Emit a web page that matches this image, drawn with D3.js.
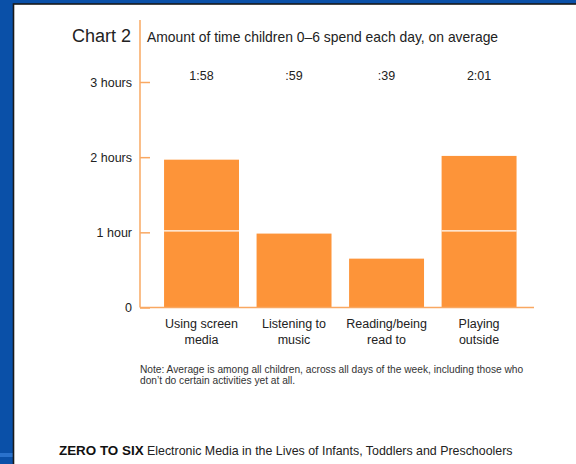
<!DOCTYPE html>
<html>
<head>
<meta charset="utf-8">
<script src="https://cdn.jsdelivr.net/npm/d3@7"></script>
<style>
  body { margin: 0; background: #0a50a8; }
  svg { display: block; font-family: "Liberation Sans", Arial, sans-serif; }
</style>
</head>
<body>
<svg></svg>
<script>
var categories = [["Using screen", "media"], ["Listening to", "music"], ["Reading/being", "read to"], ["Playing", "outside"]];
var minutes = [118, 59, 39, 121];
var valueLabels = ["1:58", ":59", ":39", "2:01"];
var hourTicks = [0, 1, 2, 3];
var hourLabels = ["0", "1 hour", "2 hours", "3 hours"];
var noteLines = ["Note: Average is among all children, across all days of the week, including those who",
                 "don\u2019t do certain activities yet at all."];

var W = 576, H = 464;
var barColor = "#fd9439";
var axisColor = "#f9a862";

var svg = d3.select("svg")
    .attr("width", W)
    .attr("height", H);

// slide background + white panel
svg.append("rect").attr("width", W).attr("height", H).attr("fill", "#0a50a8");
svg.append("rect").attr("x", 0).attr("y", 453).attr("width", 13).attr("height", 4).attr("fill", "#2a72cc");
svg.append("rect")
    .attr("x", 13.5).attr("y", 4)
    .attr("width", W).attr("height", H)
    .attr("fill", "#fff")
    .attr("stroke", "#1a1a1a")
    .attr("stroke-width", 1.6);

var x = d3.scaleBand()
    .domain(d3.range(categories.length))
    .range([140, 540.6])
    .paddingInner(0.19)
    .paddingOuter(0.26);

var y = d3.scaleLinear()
    .domain([0, 3])
    .range([307.5, 82]);

// bars
svg.selectAll(".bar")
    .data(minutes)
    .enter()
    .append("rect")
      .attr("class", "bar")
      .attr("x", function(d, i) { return x(i); })
      .attr("y", function(d) { return y(d / 60); })
      .attr("width", x.bandwidth())
      .attr("height", function(d) { return y(0) - y(d / 60); })
      .attr("fill", barColor);

// white hour lines across the bars
minutes.forEach(function(d, i) {
    hourTicks.filter(function(h) { return h > 0 && y(h) - 1.5 > y(d / 60) + 1; }).forEach(function(h) {
        svg.append("line")
            .attr("x1", x(i)).attr("x2", x(i) + x.bandwidth())
            .attr("y1", y(h) - 1.5).attr("y2", y(h) - 1.5)
            .attr("stroke", "#fff")
            .attr("stroke-width", 1.4);
    });
});

// y axis: ticks point into the plot, labels on the left
var yAxis = svg.append("g")
    .attr("transform", "translate(140,0)")
    .call(d3.axisLeft(y)
        .tickValues(hourTicks)
        .tickSize(-10)
        .tickSizeOuter(0)
        .tickPadding(8)
        .tickFormat(function(d, i) { return hourLabels[i]; }));
yAxis.select(".domain").remove();
yAxis.selectAll("line").attr("stroke", axisColor).attr("stroke-width", 1.5);
yAxis.selectAll("text")
    .attr("font-family", "Liberation Sans, Arial, sans-serif")
    .attr("font-size", 12.5)
    .attr("fill", "#222");

svg.append("line")
    .attr("x1", 140).attr("x2", 140)
    .attr("y1", 20).attr("y2", y(0))
    .attr("stroke", axisColor).attr("stroke-width", 1.5);
svg.append("line")
    .attr("x1", 140).attr("x2", 534)
    .attr("y1", y(0)).attr("y2", y(0))
    .attr("stroke", axisColor).attr("stroke-width", 1.5);

// value labels across the top
svg.selectAll(".val")
    .data(valueLabels)
    .enter()
    .append("text")
      .attr("x", function(d, i) { return x(i) + x.bandwidth() / 2; })
      .attr("y", 80)
      .attr("text-anchor", "middle")
      .attr("font-size", 12.5)
      .attr("fill", "#222")
      .text(function(d) { return d; });

// category labels
var cat = svg.selectAll(".cat")
    .data(categories)
    .enter()
    .append("text")
      .attr("text-anchor", "middle")
      .attr("font-size", 12.5)
      .attr("fill", "#222");
cat.selectAll("tspan")
    .data(function(d, i) { return d.map(function(s) { return {s: s, i: i}; }); })
    .enter()
    .append("tspan")
      .attr("x", function(d) { return x(d.i) + x.bandwidth() / 2; })
      .attr("y", function(d, j) { return 328 + j * 16; })
      .text(function(d) { return d.s; });

// titles
svg.append("text")
    .attr("x", 131).attr("y", 42)
    .attr("text-anchor", "end")
    .attr("font-size", 18)
    .attr("fill", "#222")
    .text("Chart 2");
svg.append("text")
    .attr("x", 147).attr("y", 41.5)
    .attr("font-size", 13.9)
    .attr("fill", "#222")
    .text("Amount of time children 0\u20136 spend each day, on average");

// note
svg.selectAll(".note")
    .data(noteLines)
    .enter()
    .append("text")
      .attr("x", 140)
      .attr("y", function(d, i) { return 372.5 + i * 11; })
      .attr("font-size", 10.2)
      .attr("fill", "#333")
      .text(function(d) { return d; });

// footer
var foot = svg.append("text")
    .attr("x", 59).attr("y", 455)
    .attr("font-size", 12.4)
    .attr("fill", "#222");
foot.append("tspan").attr("font-weight", "bold").attr("font-size", 13.4).attr("fill", "#111").text("ZERO TO SIX");
foot.append("tspan").text(" Electronic Media in the Lives of Infants, Toddlers and Preschoolers");
</script>
</body>
</html>
